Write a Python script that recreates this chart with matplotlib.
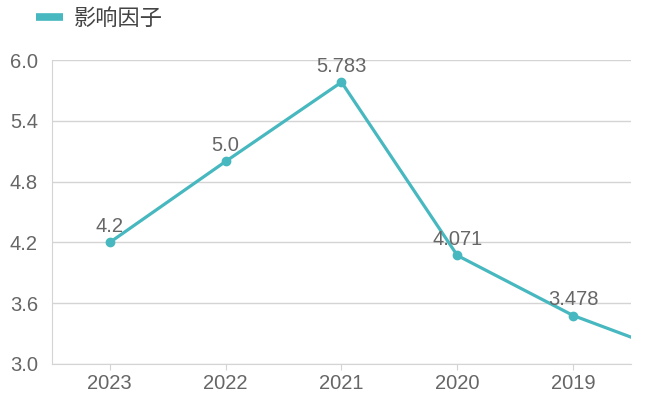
import matplotlib
matplotlib.use("Agg")
import matplotlib.pyplot as plt

plt.rcParams['font.family'] = ['Liberation Sans', 'Noto Sans CJK SC']

years = ["2023", "2022", "2021", "2020", "2019", "2018"]
impact = [4.2, 5.0, 5.783, 4.071, 3.478, 3.05]
labels = ["4.2", "5.0", "5.783", "4.071", "3.478", ""]

color = "#47b8bf"
grid = "#d4d4d4"
text = "#666666"

fig = plt.figure(figsize=(6.48, 3.96), dpi=100)
ax = fig.add_axes([0.080, 0.081, 0.894, 0.767])

x = list(range(len(years)))
ax.plot(x, impact, color=color, lw=2.3, marker="o", ms=6, label="影响因子",
        solid_capstyle="round")
for xi, v, lab in zip(x, impact, labels):
    if lab:
        ax.annotate(lab, (xi, v), xytext=(0, 4.5), textcoords="offset points",
                    ha="center", va="bottom", fontsize=14.5, color=text)

ax.set_xlim(-0.5, 4.5)
ax.set_ylim(3.0, 6.0)
ax.set_yticks([3.0, 3.6, 4.2, 4.8, 5.4, 6.0])
ax.set_yticklabels(["3.0", "3.6", "4.2", "4.8", "5.4", "6.0"])
ax.set_xticks(x[:5])
ax.set_xticklabels(years[:5])
ax.grid(axis="y", color=grid, lw=1)
ax.set_axisbelow(True)
for s in ["top", "right"]:
    ax.spines[s].set_visible(False)
for s in ["left", "bottom"]:
    ax.spines[s].set_color(grid)
ax.tick_params(axis="y", length=0, labelsize=14.5, labelcolor=text, pad=10)
ax.tick_params(axis="x", length=4, color=grid, labelsize=14.5, labelcolor=text, pad=3)

leg = fig.legend(loc="upper left", bbox_to_anchor=(0.025, 1.028), frameon=False,
                 fontsize=16, handlelength=1.2, handletextpad=0.5)
for line in leg.get_lines():
    line.set_linewidth(5.5)
    line.set_marker("")
    line.set_solid_capstyle("butt")
for t in leg.get_texts():
    t.set_color("#444444")

fig.savefig("out.png", dpi=100)
